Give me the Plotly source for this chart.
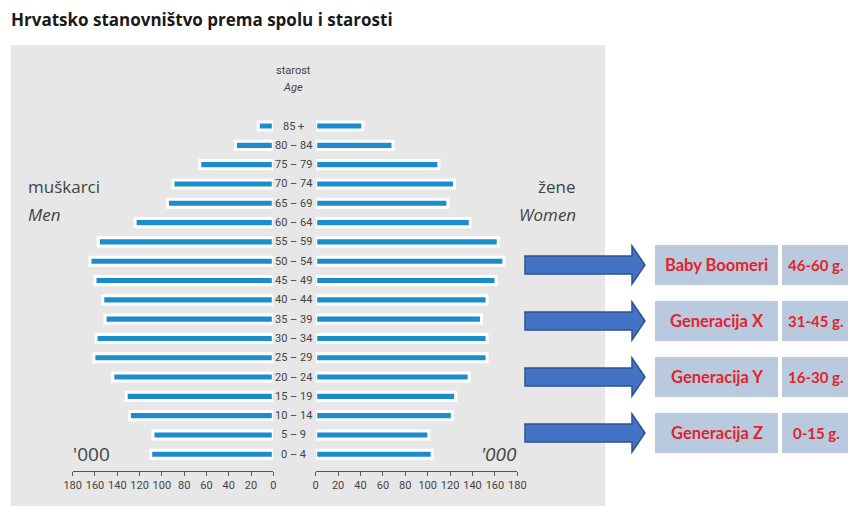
import plotly.graph_objects as go

# ---------------- data ----------------
age_groups = ["0 – 4", "5 – 9", "10 – 14", "15 – 19", "20 – 24", "25 – 29",
              "30 – 34", "35 – 39", "40 – 44", "45 – 49", "50 – 54", "55 – 59",
              "60 – 64", "65 – 69", "70 – 74", "75 – 79", "80 – 84", "85 +"]
men = [110, 108, 129, 132, 144, 161, 159, 151, 153, 160, 164.5, 157,
       124, 95, 90, 66, 34, 13.5]
women = [104, 101, 122, 125, 137, 153, 153, 148, 153, 161, 168, 163,
         138, 118, 124, 110, 69, 42]
axis_ticks = [0, 20, 40, 60, 80, 100, 120, 140, 160, 180]
generations = ["Baby Boomeri", "Generacija X", "Generacija Y", "Generacija Z"]
gen_ranges = ["46-60 g.", "31-45 g.", "16-30 g.", "0-15 g."]

# ---------------- layout helpers ----------------
# The page body has an 8px margin, so the figure sits at (8, 8) on screen.
OFF = 8
W, H = 848, 503
def px(x):
    return (x - OFF) / W
def py(y):
    return 1 - (y - OFF) / H

BLUE = "#1b8ccc"
GREY_TXT = "#444444"
FONT = "Open Sans"
RED = "#e3232c"

fig = go.Figure()
fig.add_trace(go.Bar(
    x=men, y=age_groups, orientation="h", xaxis="x", yaxis="y",
    width=0.42, marker=dict(color=BLUE, line=dict(color="#ffffff", width=3)),
    hoverinfo="x+y", name="muškarci"))
fig.add_trace(go.Bar(
    x=women, y=age_groups, orientation="h", xaxis="x2", yaxis="y",
    width=0.42, marker=dict(color=BLUE, line=dict(color="#ffffff", width=3)),
    hoverinfo="x+y", name="žene"))

axis_common = dict(
    tickvals=axis_ticks, ticktext=[str(t) for t in axis_ticks],
    showgrid=False, zeroline=False, showline=True, linecolor="#555555",
    linewidth=1, ticks="outside", ticklen=4, tickcolor="#555555",
    tickfont=dict(family="Roboto", size=11, color=GREY_TXT),
    anchor="y", fixedrange=True, automargin=False,
)
shapes = []
# grey panel
shapes.append(dict(type="rect", xref="paper", yref="paper", layer="below",
                   x0=px(11), x1=px(605), y0=py(506), y1=py(45),
                   fillcolor="#e7e7e7", line=dict(width=0)))

annotations = []
def ann(text, x, y, size, xanchor="center", family=FONT, color=GREY_TXT, yref="paper"):
    annotations.append(dict(text=text, xref="paper", yref=yref, x=x, y=y,
                            xanchor=xanchor, yanchor="middle", showarrow=False,
                            font=dict(family=family, size=size, color=color)))

ann("<b>Hrvatsko stanovništvo prema spolu i starosti</b>", px(9), py(20), 17,
    xanchor="left", family="Open Sans", color="#1a1a1a")
for a in age_groups:
    ann(a, px(293), a, 11, family="Roboto", yref="y")
ann("starost", px(293), py(70), 11, family="Roboto")
ann("<i>Age</i>", px(293), py(87), 11, family="Roboto")
ann("muškarci", px(26), py(186), 17, xanchor="left")
ann("<i>Men</i>", px(26), py(214), 17, xanchor="left")
ann("žene", px(578), py(186), 17, xanchor="right")
ann("<i>Women</i>", px(578), py(214), 17, xanchor="right")
ann("'000", px(71), py(454), 19, xanchor="left")
ann("<i>'000</i>", px(519), py(454), 19, xanchor="right")

# generation arrows and boxes
row_top = 245
row_step = 56
for i, (g, r) in enumerate(zip(generations, gen_ranges)):
    top = row_top + i * row_step
    bot = top + 40
    c = (top + bot) / 2
    pts = [(525, c - 9), (632, c - 9), (632, c - 19), (645, c), (632, c + 19),
           (632, c + 9), (525, c + 9)]
    path = "M " + " L ".join(f"{px(x):.5f},{py(y):.5f}" for x, y in pts) + " Z"
    shapes.append(dict(type="path", xref="paper", yref="paper", path=path,
                       fillcolor="#4472c4", line=dict(color="#2f528f", width=1.5)))
    shapes.append(dict(type="rect", xref="paper", yref="paper",
                       x0=px(655), x1=px(778), y0=py(bot), y1=py(top),
                       fillcolor="#b9cadf", line=dict(width=0)))
    shapes.append(dict(type="rect", xref="paper", yref="paper",
                       x0=px(782), x1=px(856), y0=py(bot), y1=py(top),
                       fillcolor="#b9cadf", line=dict(width=0)))
    ann(f"<b>{g}</b>", px(716.5), py(c), 16.5, family="Lato", color=RED)
    ann(f"<b>{r}</b>", px(816), py(c), 15, family="Lato", color=RED)

fig.update_layout(
    width=W, height=H, margin=dict(l=0, r=0, t=0, b=0, pad=0, autoexpand=False),
    paper_bgcolor="#ffffff", plot_bgcolor="rgba(0,0,0,0)",
    showlegend=False, barmode="overlay",
    xaxis=dict(domain=[px(72.7), px(273.3)], range=[180, 0], **axis_common),
    xaxis2=dict(domain=[px(315.7), px(517.3)], range=[0, 180], **axis_common),
    yaxis=dict(domain=[py(471), 1],
               range=[-(471 - 454.3) / 19.31, 17 + (454.3 - 17 * 19.31 - OFF) / 19.31],
               type="category",
               categoryorder="array", categoryarray=age_groups,
               showticklabels=False, showgrid=False, zeroline=False,
               showline=False, ticks="", fixedrange=True, automargin=False),
    shapes=shapes, annotations=annotations,
)

fig.write_html("out.html")
